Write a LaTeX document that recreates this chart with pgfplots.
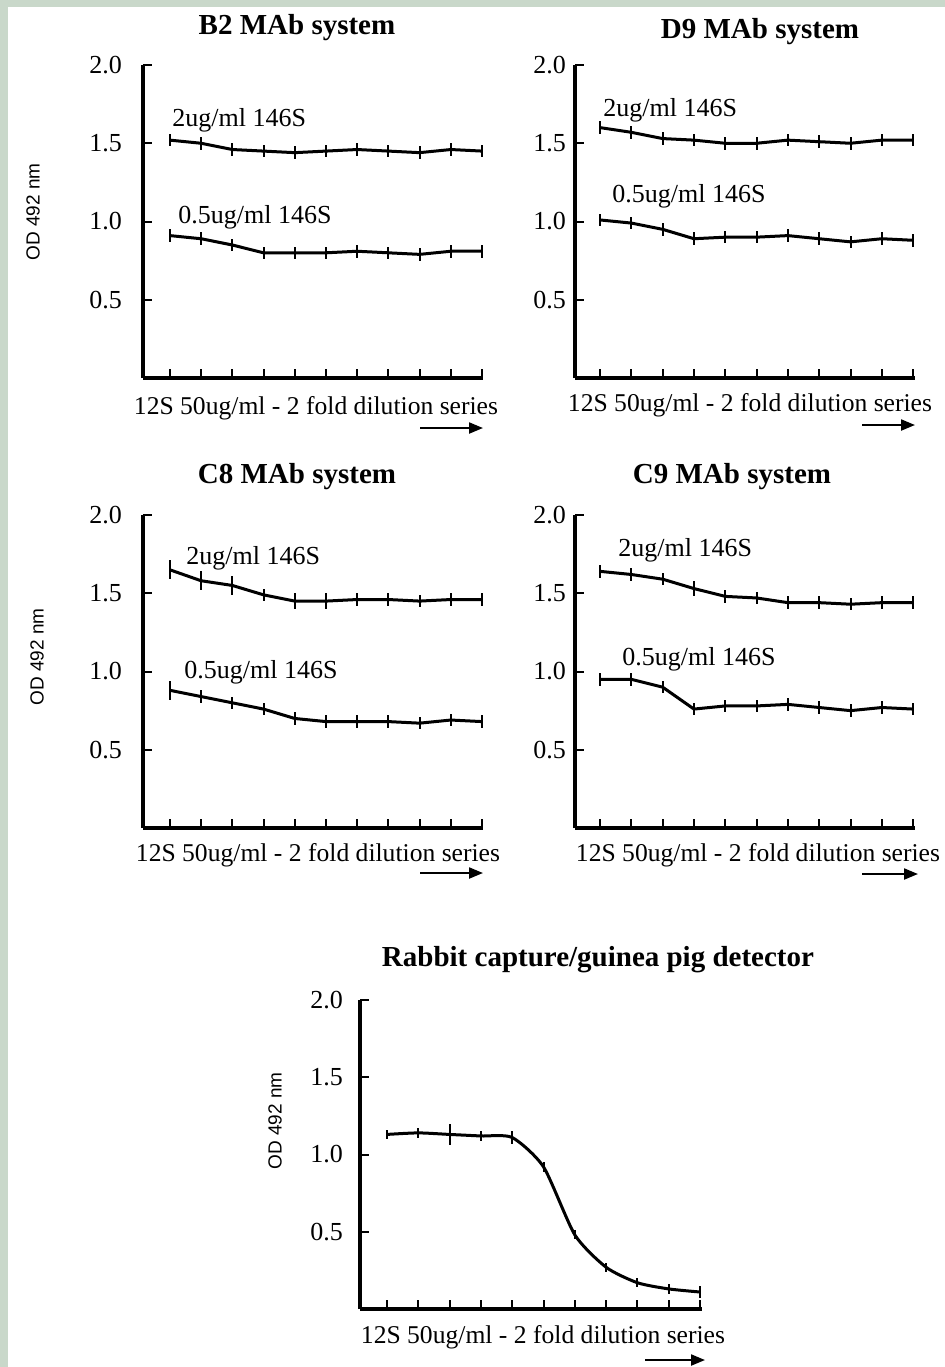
\documentclass[border=0pt]{standalone}
\usepackage{pgfplots}
\pgfplotsset{compat=1.18}
\usepackage{fontspec}
\setmainfont{Liberation Serif}
\setsansfont{Liberation Sans}
\usetikzlibrary{arrows.meta}
\definecolor{frame}{RGB}{201,216,202}

\pgfplotsset{
  panel/.style={
    scale only axis,
    anchor=south west,
    height=156.5pt,
    ymin=0, ymax=2,
    axis x line*=bottom, axis y line*=left,
    axis line style={line width=2pt},
    xtick={1,...,11}, xticklabels={},
    ytick={0.5,1,1.5,2}, yticklabels={0.5,1.0,1.5,2.0},
    tick align=inside,
    major tick length=4.5pt,
    every tick/.style={black, line width=1pt},
    yticklabel style={font=\fontsize{13}{13}\selectfont, anchor=east},
    clip=false,
  },
  ser/.style={black, line width=1.5pt, mark=none,
    error bars/y dir=both, error bars/y explicit, error bars/error mark=none,
    error bars/error bar style={line width=1pt}},
}

\begin{document}
\begin{tikzpicture}[x=0.5pt,y=-0.5pt]
\useasboundingbox (0,0) rectangle (945,1367);
\fill[white] (0,0) rectangle (945,1367);
\fill[frame] (0,0) rectangle (8,1367);
\fill[frame] (0,0) rectangle (945,7);

% ---------- B2 ----------
\begin{axis}[panel, at={(71.5pt,-189pt)}, width=170pt, xmin=0.14, xmax=11.03,
  yticklabel style={xshift=-7pt}]
\addplot[ser] table[x=x,y=y,y error=e]{
x y e
1 1.52 0.04
2 1.50 0.04
3 1.46 0.04
4 1.45 0.04
5 1.44 0.04
6 1.45 0.04
7 1.46 0.04
8 1.45 0.04
9 1.44 0.04
10 1.46 0.04
11 1.45 0.04
};
\addplot[ser] table[x=x,y=y,y error=e]{
x y e
1 0.91 0.04
2 0.89 0.04
3 0.85 0.04
4 0.80 0.04
5 0.80 0.04
6 0.80 0.04
7 0.81 0.04
8 0.80 0.04
9 0.79 0.04
10 0.81 0.04
11 0.81 0.04
};
\end{axis}

% ---------- D9 ----------
\begin{axis}[panel, at={(287.5pt,-189pt)}, width=170pt, xmin=0.2, xmax=11.06,
  yticklabel style={xshift=-1pt}]
\addplot[ser] table[x=x,y=y,y error=e]{
x y e
1 1.60 0.04
2 1.57 0.04
3 1.53 0.04
4 1.52 0.04
5 1.50 0.04
6 1.50 0.04
7 1.52 0.04
8 1.51 0.04
9 1.50 0.04
10 1.52 0.04
11 1.52 0.04
};
\addplot[ser] table[x=x,y=y,y error=e]{
x y e
1 1.01 0.04
2 0.99 0.04
3 0.95 0.04
4 0.89 0.04
5 0.90 0.04
6 0.90 0.04
7 0.91 0.04
8 0.89 0.04
9 0.87 0.04
10 0.89 0.04
11 0.88 0.04
};
\end{axis}

% ---------- C8 ----------
\begin{axis}[panel, at={(71.5pt,-414pt)}, width=170pt, xmin=0.14, xmax=11.03,
  yticklabel style={xshift=-7pt}]
\addplot[ser] table[x=x,y=y,y error=e]{
x y e
1 1.65 0.06
2 1.58 0.06
3 1.55 0.06
4 1.49 0.04
5 1.45 0.05
6 1.45 0.05
7 1.46 0.04
8 1.46 0.04
9 1.45 0.04
10 1.46 0.04
11 1.46 0.04
};
\addplot[ser] table[x=x,y=y,y error=e]{
x y e
1 0.88 0.06
2 0.84 0.04
3 0.80 0.04
4 0.76 0.04
5 0.70 0.04
6 0.68 0.04
7 0.68 0.04
8 0.68 0.04
9 0.67 0.04
10 0.69 0.04
11 0.68 0.04
};
\end{axis}

% ---------- C9 ----------
\begin{axis}[panel, at={(287.5pt,-414pt)}, width=170pt, xmin=0.2, xmax=11.06,
  yticklabel style={xshift=-1pt}]
\addplot[ser] table[x=x,y=y,y error=e]{
x y e
1 1.64 0.04
2 1.62 0.04
3 1.59 0.04
4 1.53 0.05
5 1.48 0.04
6 1.47 0.04
7 1.44 0.04
8 1.44 0.04
9 1.43 0.04
10 1.44 0.04
11 1.44 0.04
};
\addplot[ser] table[x=x,y=y,y error=e]{
x y e
1 0.95 0.04
2 0.95 0.04
3 0.90 0.04
4 0.76 0.04
5 0.78 0.04
6 0.78 0.04
7 0.79 0.04
8 0.77 0.04
9 0.75 0.04
10 0.77 0.04
11 0.76 0.04
};
\end{axis}

% ---------- Rabbit ----------
\begin{axis}[panel, at={(180pt,-654.5pt)}, width=171pt, height=154.5pt, xmin=0.14, xmax=11.06,
  yticklabel style={xshift=-5pt}]
\addplot[smooth, tension=0.4, ser] table[x=x,y=y,y error=e]{
x y e
1 1.13 0.03
2 1.14 0.03
3 1.13 0.07
4 1.12 0.03
5 1.11 0.04
6 0.92 0.03
7 0.48 0.03
8 0.27 0.03
9 0.17 0.03
10 0.13 0.03
11 0.11 0.04
};
\end{axis}

% ---------- titles ----------
\begin{scope}[every node/.style={font=\bfseries\fontsize{14.5}{14.5}\selectfont}]
\node at (297,28) {B2 MAb system};
\node at (760,32) {D9 MAb system};
\node at (297,477) {C8 MAb system};
\node at (732,477) {C9 MAb system};
\node at (598,960) {Rabbit capture/guinea pig detector};
\end{scope}

% ---------- x labels ----------
\begin{scope}[every node/.style={font=\fontsize{12.8}{13}\selectfont}]
\node at (316,408) {12S 50ug/ml - 2 fold dilution series};
\node at (750,405) {12S 50ug/ml - 2 fold dilution series};
\node at (318,855) {12S 50ug/ml - 2 fold dilution series};
\node at (758,855) {12S 50ug/ml - 2 fold dilution series};
\node at (543,1337) {12S 50ug/ml - 2 fold dilution series};
\end{scope}
\begin{scope}[line width=1.1pt, -{Triangle[length=7pt,width=5.5pt]}]
\draw (420,428) -- (483,428);
\draw (862,425) -- (915,425);
\draw (420,873) -- (483,873);
\draw (862,874) -- (918,874);
\draw (645,1360) -- (705,1360);
\end{scope}

% ---------- series labels ----------
\begin{scope}[every node/.style={font=\fontsize{13}{13}\selectfont, anchor=west, inner sep=0pt}]
\node at (172,120) {2ug/ml 146S};
\node at (178,217) {0.5ug/ml 146S};
\node at (603,110) {2ug/ml 146S};
\node at (612,196) {0.5ug/ml 146S};
\node at (186,558) {2ug/ml 146S};
\node at (184,672) {0.5ug/ml 146S};
\node at (618,550) {2ug/ml 146S};
\node at (622,659) {0.5ug/ml 146S};
\end{scope}

% ---------- y labels ----------
\begin{scope}[every node/.style={font=\sffamily\fontsize{9.5}{10}\selectfont, rotate=90}]
\node at (33,212) {OD 492 nm};
\node at (37,657) {OD 492 nm};
\node at (275,1121) {OD 492 nm};
\end{scope}
\end{tikzpicture}
\end{document}
